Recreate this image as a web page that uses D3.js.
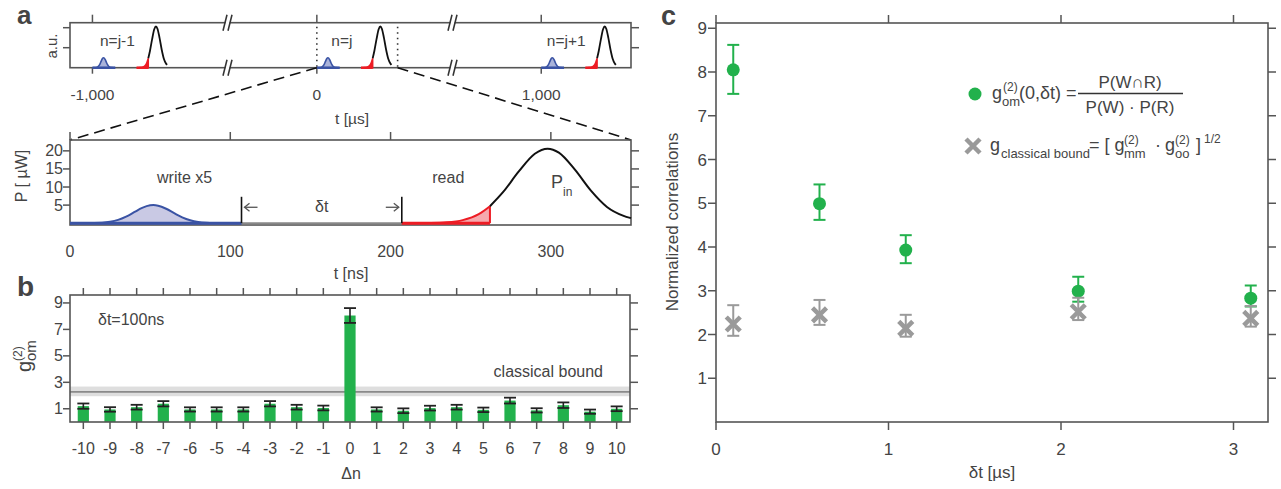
<!DOCTYPE html>
<html><head><meta charset="utf-8">
<script src="https://cdn.jsdelivr.net/npm/d3@7"></script>
<style>
body{margin:0;background:#fff}
svg{display:block}
text{font-family:"Liberation Sans",Arial,Helvetica,sans-serif;fill:#444}
</style>
</head><body>
<svg id="chart" width="1281" height="489"></svg>
<script>
// ---------------- DATA ----------------
// panel a: pulse shapes
const writeT = [0,10,20,25,30,35,40,45,50,52,55,60,65,70,75,80,85,90,100,107];
const writeP = [0,0.01,0.14,0.40,0.93,1.83,3.03,4.22,4.93,5.0,4.84,4.0,2.78,1.62,0.80,0.33,0.11,0.03,0,0];
const pinT = [207,215,225,235,245,255,262,270,280,290,298,305,315,325,335,345,350];
const pinP = [0,0.01,0.05,0.23,0.85,2.5,4.7,8.5,14.3,19.2,20.6,19.5,14.8,9.0,4.5,2.1,1.4];
const periods = [-1,0,1];
const periodLabels = ["n=j-1","n=j","n=j+1"];
const topTicks = [-1000,0,1000];
const topTickLabels = ["-1,000","0","1,000"];
const nsTicks = [0,100,200,300];
const pTicks = [5,10,15,20];
// panel b
const dn = [-10,-9,-8,-7,-6,-5,-4,-3,-2,-1,0,1,2,3,4,5,6,7,8,9,10];
const g2 = [1.2,0.95,1.12,1.38,0.95,0.95,0.95,1.38,1.12,1.06,8.05,0.95,0.85,1.05,1.12,0.92,1.62,0.88,1.27,0.78,1.0];
const g2Err = [0.2,0.17,0.18,0.2,0.16,0.16,0.16,0.2,0.18,0.18,0.56,0.16,0.18,0.18,0.18,0.17,0.22,0.16,0.21,0.16,0.18];
const bTicks = [1,3,5,7,9];
const boundVal = 2.28, boundLo = 1.95, boundHi = 2.68;
// panel c
const dtUs = [0.1,0.6,1.1,2.1,3.1];
const gOm = [8.05,4.99,3.93,2.99,2.83];
const gOmLo = [7.5,4.62,3.63,2.75,2.64];
const gOmHi = [8.62,5.43,4.27,3.32,3.12];
const gCl = [2.24,2.45,2.14,2.52,2.37];
const gClLo = [1.97,2.22,1.95,2.33,2.18];
const gClHi = [2.67,2.79,2.45,2.84,2.65];
const cXTicks = [0,1,2,3];
const cYTicks = [1,2,3,4,5,6,7,8,9];

// ---------------- STYLE ----------------
const AX = "#555", GREEN = "#22b14c", GRAY = "#9a9a9a", BLUE = "#3a53a4", RED = "#ed1c24";
const svg = d3.select("#chart");

function frame(x0,y0,x1,y1){
  svg.append("rect").attr("x",x0).attr("y",y0).attr("width",x1-x0).attr("height",y1-y0)
    .attr("fill","none").attr("stroke",AX).attr("stroke-width",1.6);
}
function vticks(xs,y,len){ xs.forEach(x=>svg.append("line").attr("x1",x).attr("x2",x).attr("y1",y).attr("y2",y+len).attr("stroke",AX).attr("stroke-width",1.5)); }
function hticks(ys,x,len){ ys.forEach(y=>svg.append("line").attr("x1",x).attr("x2",x+len).attr("y1",y).attr("y2",y).attr("stroke",AX).attr("stroke-width",1.5)); }
function txt(x,y,s,size,anchor,opts){
  const t = svg.append("text").attr("x",x).attr("y",y).attr("font-size",size).attr("text-anchor",anchor||"start").text(s);
  if(opts){ for(const k in opts) t.attr(k,opts[k]); }
  return t;
}

// ================= PANEL a (top) =================
const xTop = d3.scaleLinear([-1100,1400],[70,631]);
const yTop = d3.scaleLinear([0,22.5],[67.7,22.7]);
const T0 = yTop.range()[1], B0 = yTop.range()[0];
frame(70,T0,631,B0);
vticks(topTicks.map(xTop),T0,-8);
vticks(topTicks.map(xTop),B0,6);
hticks([10,20].map(yTop),70,-7);
hticks([10,20].map(yTop),631,8);
// axis breaks
[227,452].forEach(bx=>{
  [T0,B0].forEach(by=>{
    svg.append("polygon").attr("points",`${bx-4},${by+8} ${bx+1},${by-8} ${bx+5},${by-8} ${bx},${by+8}`).attr("fill","#fff");
    [[-4,1],[1,6]].forEach(([a,b])=>svg.append("line").attr("x1",bx+a).attr("y1",by+8).attr("x2",bx+b-1).attr("y2",by-8).attr("stroke","#333").attr("stroke-width",1.6));
  });
});
// dotted period markers
[0,360].forEach(t=>svg.append("line").attr("x1",xTop(t)).attr("x2",xTop(t)).attr("y1",T0+4).attr("y2",B0)
  .attr("stroke","#333").attr("stroke-width",1.6).attr("stroke-dasharray","1.5,4"));
// pulses
const k = 0.95;
const wPts = writeT.map((t,i)=>[t,writeP[i]]);
const pPts = pinT.map((t,i)=>[t,pinP[i]]);
periods.forEach((p,pi)=>{
  const off = p*1000;
  const X = t=>xTop(off+t*k);
  svg.append("path").datum(wPts).attr("d",d3.area().x(d=>X(d[0])).y0(yTop(0)).y1(d=>yTop(d[1])).curve(d3.curveMonotoneX))
    .attr("fill","#aab3da").attr("stroke",BLUE).attr("stroke-width",1.6);
  svg.append("line").attr("x1",X(0)).attr("x2",X(107)).attr("y1",yTop(0)).attr("y2",yTop(0)).attr("stroke",BLUE).attr("stroke-width",2.5);
  const red = pPts.filter(d=>d[0]<=262);
  svg.append("path").datum(red).attr("d",d3.area().x(d=>X(d[0])).y0(yTop(0)).y1(d=>yTop(d[1])).curve(d3.curveMonotoneX))
    .attr("fill",RED).attr("stroke",RED).attr("stroke-width",1.5);
  svg.append("line").attr("x1",X(207)).attr("x2",X(262)).attr("y1",yTop(0)).attr("y2",yTop(0)).attr("stroke",RED).attr("stroke-width",2.5);
  const blk = pPts.filter(d=>d[0]>=262);
  svg.append("path").datum(blk).attr("d",d3.line().x(d=>X(d[0])).y(d=>yTop(d[1])).curve(d3.curveMonotoneX))
    .attr("fill","none").attr("stroke","#111").attr("stroke-width",1.8);
  txt(xTop(off)+25, 46, periodLabels[pi], 15.5, "middle", {fill:"#333"});
});
topTicks.forEach((t,i)=>txt(xTop(t),100,topTickLabels[i],15.5,"middle"));
txt(352,124,"t [µs]",15.5,"middle");
txt(0,0,"a.u.",15,"middle",{transform:"translate(57,46) rotate(-90)"});
txt(17,24,"a",26,"start",{"font-weight":"bold",fill:"#222"});

// zoom dashed lines
svg.append("line").attr("x1",xTop(0)).attr("y1",B0).attr("x2",70).attr("y2",140).attr("stroke","#111").attr("stroke-width",1.6).attr("stroke-dasharray","11,6");
svg.append("line").attr("x1",xTop(360)).attr("y1",B0).attr("x2",631).attr("y2",140).attr("stroke","#111").attr("stroke-width",1.6).attr("stroke-dasharray","11,6");

// ================= PANEL a (bottom) =================
const xB = d3.scaleLinear([0,350],[70,631]);
const yB = d3.scaleLinear([-0.5,23],[225,140]);
frame(70,140,631,225);
vticks(nsTicks.map(xB),140,-8);
hticks(pTicks.map(yB),70,-7);
hticks(pTicks.map(yB),631,8);
nsTicks.forEach(t=>txt(xB(t),257,t,16,"middle"));
pTicks.forEach(v=>txt(63,yB(v)+5.5,v,16,"end"));
txt(351,279,"t [ns]",16,"middle");
txt(0,0,"P [ µW]",16,"middle",{transform:"translate(27,176) rotate(-90)"});
// write
svg.append("path").datum(wPts).attr("d",d3.area().x(d=>xB(d[0])).y0(yB(0)).y1(d=>yB(d[1])).curve(d3.curveMonotoneX))
  .attr("fill","#c9c9e4").attr("stroke",BLUE).attr("stroke-width",2);
svg.append("line").attr("x1",xB(107)).attr("x2",xB(207)).attr("y1",yB(0)).attr("y2",yB(0)).attr("stroke","#888").attr("stroke-width",2);
svg.append("line").attr("x1",xB(0)).attr("x2",xB(107)).attr("y1",yB(0)).attr("y2",yB(0)).attr("stroke",BLUE).attr("stroke-width",3);
// read
const redB = pPts.filter(d=>d[0]<=262);
svg.append("path").datum(redB).attr("d",d3.area().x(d=>xB(d[0])).y0(yB(0)).y1(d=>yB(d[1])).curve(d3.curveMonotoneX))
  .attr("fill","#f6a9ad").attr("stroke","none");
svg.append("path").datum(redB).attr("d",d3.line().x(d=>xB(d[0])).y(d=>yB(d[1])).curve(d3.curveMonotoneX))
  .attr("fill","none").attr("stroke",RED).attr("stroke-width",2);
svg.append("line").attr("x1",xB(262)).attr("x2",xB(262)).attr("y1",yB(0)).attr("y2",yB(4.7)).attr("stroke",RED).attr("stroke-width",2);
svg.append("line").attr("x1",xB(207)).attr("x2",xB(262)).attr("y1",yB(0)).attr("y2",yB(0)).attr("stroke",RED).attr("stroke-width",3);
svg.append("path").datum(pPts.filter(d=>d[0]>=262)).attr("d",d3.line().x(d=>xB(d[0])).y(d=>yB(d[1])).curve(d3.curveMonotoneX))
  .attr("fill","none").attr("stroke","#111").attr("stroke-width",2);
// delta t markers
[107,207].forEach(t=>svg.append("line").attr("x1",xB(t)).attr("x2",xB(t)).attr("y1",yB(0)).attr("y2",yB(7.3)).attr("stroke","#111").attr("stroke-width",1.6));
const ay = yB(4.4);
svg.append("line").attr("x1",xB(107)+3).attr("x2",xB(107)+16).attr("y1",ay).attr("y2",ay).attr("stroke","#555").attr("stroke-width",1.3);
svg.append("path").attr("d",`M${xB(107)+8},${ay-4} L${xB(107)+3},${ay} L${xB(107)+8},${ay+4}`).attr("fill","none").attr("stroke","#555").attr("stroke-width",1.3);
svg.append("line").attr("x1",xB(207)-16).attr("x2",xB(207)-3).attr("y1",ay).attr("y2",ay).attr("stroke","#555").attr("stroke-width",1.3);
svg.append("path").attr("d",`M${xB(207)-8},${ay-4} L${xB(207)-3},${ay} L${xB(207)-8},${ay+4}`).attr("fill","none").attr("stroke","#555").attr("stroke-width",1.3);
txt(xB(157),212,"δt",16,"middle",{fill:"#333"});
txt(xB(71.5),183,"write x5",16,"middle",{fill:BLUE});
txt(xB(236),183,"read",16,"middle",{fill:RED});
txt(551,188,"P",18,"start",{fill:"#222"});
txt(563,196,"in",12,"start",{fill:"#222"});

// ================= PANEL b =================
const xb = d3.scaleBand(dn,[70,630]).paddingInner(0.58).paddingOuter(0.29);
const yb = d3.scaleLinear([0,9.6],[422,295]);
svg.append("rect").attr("x",70).attr("width",560).attr("y",yb(boundHi)).attr("height",yb(boundLo)-yb(boundHi)).attr("fill","#dedede");
svg.append("line").attr("x1",70).attr("x2",630).attr("y1",yb(boundVal)).attr("y2",yb(boundVal)).attr("stroke","#8a8a8a").attr("stroke-width",1.6);
svg.selectAll(".bar").data(dn).enter().append("rect")
  .attr("x",d=>xb(d)).attr("width",xb.bandwidth())
  .attr("y",(d,i)=>yb(g2[i])).attr("height",(d,i)=>yb(0)-yb(g2[i])).attr("fill",GREEN);
dn.forEach((d,i)=>{
  const cx = xb(d)+xb.bandwidth()/2, hi = yb(g2[i]+g2Err[i]), lo = yb(g2[i]-g2Err[i]);
  svg.append("line").attr("x1",cx).attr("x2",cx).attr("y1",hi).attr("y2",lo).attr("stroke","#222").attr("stroke-width",1.6);
  [hi,lo].forEach(y=>svg.append("line").attr("x1",cx-6).attr("x2",cx+6).attr("y1",y).attr("y2",y).attr("stroke","#222").attr("stroke-width",1.8));
});
frame(70,295,630,422);
const bCenters = dn.map(d=>xb(d)+xb.bandwidth()/2);
vticks(bCenters,295,-7);
vticks(bCenters,422,7);
hticks(bTicks.map(yb),70,-7);
hticks(bTicks.map(yb),630,8);
dn.forEach((d,i)=>txt(bCenters[i],454,d,16,"middle"));
bTicks.forEach(v=>txt(63,yb(v)+5.5,v,16,"end"));
txt(351,479,"Δn",16,"middle");
txt(98,325,"δt=100ns",16,"start",{fill:"#333"});
txt(603,377,"classical bound",16,"end",{fill:"#333"});
const gl = svg.append("g").attr("transform","translate(31,372) rotate(-90)");
gl.append("text").attr("x",0).attr("y",0).attr("font-size",20).text("g");
gl.append("text").attr("x",11).attr("y",-9).attr("font-size",12).text("(2)");
gl.append("text").attr("x",11).attr("y",5).attr("font-size",15).text("om");
txt(17,296,"b",28,"start",{"font-weight":"bold",fill:"#222"});

// ================= PANEL c =================
const xc = d3.scaleLinear([0,3.2],[716,1268]);
const yc = d3.scaleLinear([0,9.12],[422,23]);
frame(716,23,1268,422);
vticks(cXTicks.map(xc),23,-8);
vticks(cXTicks.map(xc),422,8);
hticks(cYTicks.map(yc),716,-8);
hticks(cYTicks.map(yc),1268,8);
cXTicks.forEach(v=>txt(xc(v),455,v,17,"middle"));
cYTicks.forEach(v=>txt(707,yc(v)+6,v,17,"end"));
txt(992,478,"δt [µs]",17,"middle");
txt(0,0,"Normalized correlations",17,"middle",{transform:"translate(678,222) rotate(-90)"});
txt(661,25,"c",27,"start",{"font-weight":"bold",fill:"#222"});
// green
dtUs.forEach((t,i)=>{
  const cx = xc(t);
  svg.append("line").attr("x1",cx).attr("x2",cx).attr("y1",yc(gOmHi[i])).attr("y2",yc(gOmLo[i])).attr("stroke",GREEN).attr("stroke-width",2);
  [gOmHi[i],gOmLo[i]].forEach(v=>svg.append("line").attr("x1",cx-6).attr("x2",cx+6).attr("y1",yc(v)).attr("y2",yc(v)).attr("stroke",GREEN).attr("stroke-width",2));
  svg.append("circle").attr("cx",cx).attr("cy",yc(gOm[i])).attr("r",6.5).attr("fill",GREEN);
});
// gray crosses
dtUs.forEach((t,i)=>{
  const cx = xc(t), cy = yc(gCl[i]);
  svg.append("line").attr("x1",cx).attr("x2",cx).attr("y1",yc(gClHi[i])).attr("y2",yc(gClLo[i])).attr("stroke",GRAY).attr("stroke-width",2);
  [gClHi[i],gClLo[i]].forEach(v=>svg.append("line").attr("x1",cx-6).attr("x2",cx+6).attr("y1",yc(v)).attr("y2",yc(v)).attr("stroke",GRAY).attr("stroke-width",2));
  svg.append("path").attr("d",`M${cx-7},${cy-7}L${cx+7},${cy+7}M${cx-7},${cy+7}L${cx+7},${cy-7}`).attr("stroke",GRAY).attr("stroke-width",4.5);
});
// legend
svg.append("circle").attr("cx",975).attr("cy",94).attr("r",6.5).attr("fill",GREEN);
txt(992,99,"g",18,"start",{fill:"#333"});
txt(1003,91,"(2)",12,"start",{fill:"#333"});
txt(1002,106,"om",13,"start",{fill:"#333"});
txt(1019,99,"(0,δt) =",18,"start",{fill:"#333"});
svg.append("line").attr("x1",1078).attr("x2",1183).attr("y1",93.5).attr("y2",93.5).attr("stroke","#333").attr("stroke-width",1.5);
txt(1130,88,"P(W∩R)",17,"middle",{fill:"#333"});
txt(1130,113,"P(W) · P(R)",17,"middle",{fill:"#333"});
const lx=973, ly=146;
svg.append("path").attr("d",`M${lx-7},${ly-7}L${lx+7},${ly+7}M${lx-7},${ly+7}L${lx+7},${ly-7}`).attr("stroke",GRAY).attr("stroke-width",4.5);
txt(990,151,"g",18,"start",{fill:"#333"});
txt(1001,158,"classical bound",13,"start",{fill:"#333"});
txt(1089,151,"= [ g",18,"start",{fill:"#333"});
txt(1124,144,"(2)",12,"start",{fill:"#333"});
txt(1124,158,"mm",13,"start",{fill:"#333"});
txt(1155,151,"·",18,"start",{fill:"#333"});
txt(1165,151,"g",18,"start",{fill:"#333"});
txt(1175,144,"(2)",12,"start",{fill:"#333"});
txt(1175,158,"oo",13,"start",{fill:"#333"});
txt(1196,151,"]",18,"start",{fill:"#333"});
txt(1204,143,"1/2",12,"start",{fill:"#333"});
</script>
</body></html>
